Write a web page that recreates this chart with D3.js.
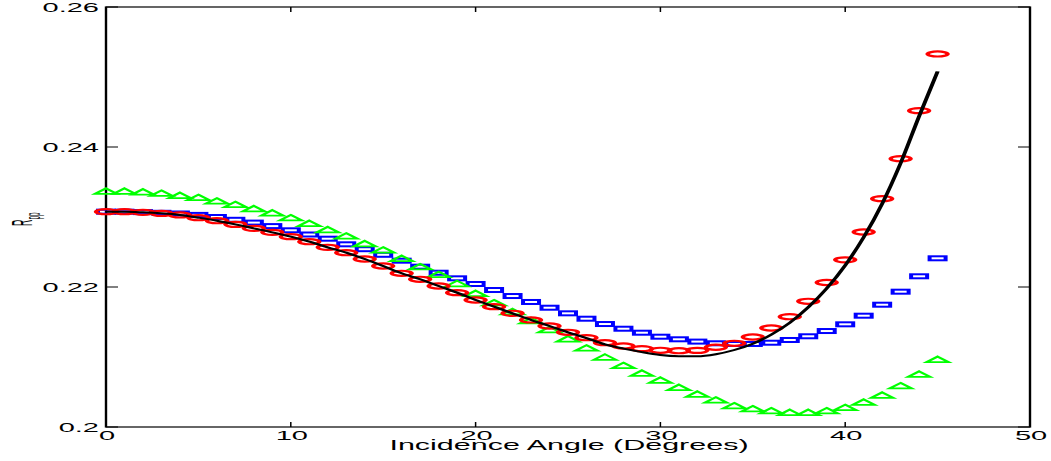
<!DOCTYPE html>
<html>
<head>
<meta charset="utf-8">
<script src="https://cdn.jsdelivr.net/npm/d3@7"></script>
<style>
  body { margin: 0; background: #fff; }
  svg { display: block; }
  text { font-family: "Liberation Sans", Arial, Helvetica, sans-serif; fill: #000; }
</style>
</head>
<body>
<svg id="chart" width="1051" height="461"></svg>
<script>
"use strict";

// ---------------------------------------------------------------------------
// Rpp vs incidence angle: exact curve (black line) and three approximations
// drawn as red circles, blue squares and green triangles. The original figure
// was squashed vertically, so the plot and the text live in squashed groups.
// ---------------------------------------------------------------------------

const angles = [0, 1, 2, 3, 4, 5, 6, 7, 8, 9, 10, 11, 12, 13, 14, 15, 16, 17, 18, 19, 20, 21, 22,
  23, 24, 25, 26, 27, 28, 29, 30, 31, 32, 33, 34, 35, 36, 37, 38, 39, 40, 41, 42, 43, 44, 45];

// black line
const exact = [0.23076, 0.23076, 0.23067, 0.23052, 0.23029, 0.22990, 0.22947, 0.22895, 0.22838,
  0.22781, 0.22719, 0.22647, 0.22567, 0.22490, 0.22400, 0.22300, 0.22196, 0.22110, 0.22014,
  0.21919, 0.21814, 0.21719, 0.21624, 0.21529, 0.21443, 0.21353, 0.21270, 0.21180, 0.21120,
  0.21070, 0.21030, 0.21012, 0.21010, 0.21040, 0.21100, 0.21190, 0.21320, 0.21490, 0.21710,
  0.21980, 0.22310, 0.22710, 0.23190, 0.23770, 0.24440, 0.25080];

// red circles
const circles = [0.23076, 0.23076, 0.23067, 0.23052, 0.23029, 0.22990, 0.22947, 0.22895, 0.22838,
  0.22781, 0.22719, 0.22647, 0.22567, 0.22490, 0.22400, 0.22300, 0.22196, 0.22110, 0.22014,
  0.21919, 0.21814, 0.21719, 0.21624, 0.21529, 0.21443, 0.21353, 0.21276, 0.21204, 0.21157,
  0.21119, 0.21096, 0.21090, 0.21095, 0.21139, 0.21196, 0.21286, 0.21414, 0.21576, 0.21796,
  0.22064, 0.22388, 0.22786, 0.23262, 0.23833, 0.24519, 0.25329];

// blue squares
const squares = [0.23076, 0.23076, 0.23070, 0.23060, 0.23050, 0.23030, 0.23000, 0.22960, 0.22920,
  0.22870, 0.22810, 0.22750, 0.22690, 0.22610, 0.22540, 0.22460, 0.22376, 0.22290, 0.22204,
  0.22124, 0.22043, 0.21957, 0.21871, 0.21786, 0.21704, 0.21624, 0.21547, 0.21471, 0.21404,
  0.21347, 0.21290, 0.21253, 0.21220, 0.21196, 0.21186, 0.21186, 0.21204, 0.21243, 0.21296,
  0.21371, 0.21467, 0.21590, 0.21747, 0.21933, 0.22153, 0.22410];

// green triangles
const triangles = [0.23370, 0.23370, 0.23360, 0.23340, 0.23310, 0.23280, 0.23230, 0.23180, 0.23120,
  0.23060, 0.22990, 0.22910, 0.22820, 0.22730, 0.22620, 0.22530, 0.22410, 0.22290, 0.22180,
  0.22050, 0.21910, 0.21776, 0.21650, 0.21520, 0.21390, 0.21260, 0.21130, 0.21000, 0.20880,
  0.20770, 0.20670, 0.20567, 0.20470, 0.20386, 0.20304, 0.20261, 0.20233, 0.20210, 0.20210,
  0.20233, 0.20280, 0.20357, 0.20457, 0.20590, 0.20757, 0.20967];

const xTicks = [0, 10, 20, 30, 40, 50];
const yTicks = [0.2, 0.22, 0.24, 0.26];
const yTickLabels = ["0.2", "0.22", "0.24", "0.26"];
const xTitle = "Incidence Angle (Degrees)";

const M = { left: 106, right: 1030, top: 7, bottom: 427 };
const SQ = 0.5;   // vertical squash of the plot area
const TXT = 0.46; // vertical squash of the text

const x = d3.scaleLinear().domain([0, 50]).range([0, M.right - M.left]);
const y = d3.scaleLinear().domain([0.2, 0.26]).range([(M.bottom - M.top) / SQ, 0]);
const pw = x.range()[1];
const ph = y.range()[0];
const realY = (v) => M.top + y(v) * SQ;

const svg = d3.select("#chart");
const plot = svg.append("g").attr("transform", `translate(${M.left},${M.top}) scale(1,${SQ})`);

// ticks on all four sides, pointing inward
xTicks.forEach((t) => {
  plot.append("line").attr("x1", x(t)).attr("x2", x(t)).attr("y1", ph).attr("y2", ph - 10)
    .attr("stroke", "#000").attr("stroke-width", 1.5);
  plot.append("line").attr("x1", x(t)).attr("x2", x(t)).attr("y1", 0).attr("y2", 10)
    .attr("stroke", "#000").attr("stroke-width", 1.5);
});
yTicks.forEach((t) => {
  plot.append("line").attr("x1", 0).attr("x2", 12).attr("y1", y(t)).attr("y2", y(t))
    .attr("stroke", "#000").attr("stroke-width", 2);
  plot.append("line").attr("x1", pw).attr("x2", pw - 12).attr("y1", y(t)).attr("y2", y(t))
    .attr("stroke", "#000").attr("stroke-width", 2);
});

plot.append("rect").attr("x", 0).attr("y", 0).attr("width", pw).attr("height", ph)
  .attr("fill", "none").attr("stroke", "#000").attr("stroke-width", 2.4);

// blue squares
plot.append("g").selectAll("rect").data(angles).join("rect")
  .attr("x", (a) => x(a) - 8).attr("y", (a, i) => y(squares[i]) - 4)
  .attr("width", 16).attr("height", 8)
  .attr("fill", "none").attr("stroke", "#0000ff").attr("stroke-width", 4);

// green triangles
plot.append("g").selectAll("path").data(angles).join("path")
  .attr("d", "M0,-5.5L11,5.5L-11,5.5Z")
  .attr("transform", (a, i) => `translate(${x(a)},${y(triangles[i])})`)
  .attr("fill", "none").attr("stroke", "#00ff00").attr("stroke-width", 3.5);

// red circles
plot.append("g").selectAll("ellipse").data(angles).join("ellipse")
  .attr("cx", (a) => x(a)).attr("cy", (a, i) => y(circles[i]))
  .attr("rx", 10).attr("ry", 5.1)
  .attr("fill", "none").attr("stroke", "#ff0000").attr("stroke-width", 4.4);

// black curve
const line = d3.line().x((a) => x(a)).y((a, i) => y(exact[i])).curve(d3.curveMonotoneX);
plot.append("path").attr("d", line(angles))
  .attr("fill", "none").attr("stroke", "#000").attr("stroke-width", 4);

// tick labels
yTicks.forEach((t, i) => {
  svg.append("g").attr("transform", `translate(99,${realY(t) + 4.8}) scale(1,${TXT})`)
    .append("text").attr("text-anchor", "end").attr("font-size", 29).text(yTickLabels[i]);
});
xTicks.forEach((t) => {
  svg.append("g").attr("transform", `translate(${M.left + x(t) + 1},439.7) scale(1,${TXT})`)
    .append("text").attr("text-anchor", "middle").attr("font-size", 29).text(t);
});

// axis titles
svg.append("g").attr("transform", `translate(569,449.5) scale(1,${TXT})`)
  .append("text").attr("text-anchor", "middle").attr("font-size", 30.5).text(xTitle);

const yl = svg.append("g").attr("transform", "translate(32,226) scale(1,0.3) rotate(-90)")
  .append("text").attr("font-size", 30);
yl.append("tspan").text("R");
yl.append("tspan").attr("font-size", 21).attr("dy", 8).text("pp");
</script>
</body>
</html>
